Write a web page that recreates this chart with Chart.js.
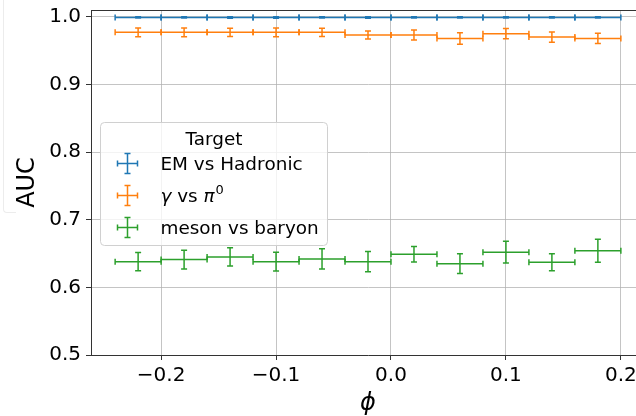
<!DOCTYPE html>
<html>
<head>
<meta charset="utf-8">
<title>AUC vs phi</title>
<script src="https://cdn.jsdelivr.net/npm/chart.js@4/dist/chart.umd.min.js"></script>
<style>
  html, body { margin: 0; padding: 0; background: #fff; overflow: hidden; }
  #wrap { position: relative; width: 636px; height: 416px; overflow: hidden; }
  #edge {
    position: absolute; left: 3px; top: -4px; width: 12px; height: 216px;
    border-left: 1px solid #ececec; border-bottom: 1px solid #ececec;
    border-bottom-left-radius: 4px;
  }
  canvas { position: absolute; left: 0; top: 0; }
</style>
</head>
<body>
<div id="wrap">
  <div id="edge"></div>
  <canvas id="aucChart" width="660" height="416"></canvas>
</div>
<script>
// phi bins (centre and half width)
const phiBins = [-0.22, -0.18, -0.14, -0.10, -0.06, -0.02, 0.02, 0.06, 0.10, 0.14, 0.18];
const phiHalfWidth = [0.02, 0.02, 0.02, 0.02, 0.02, 0.02, 0.02, 0.02, 0.02, 0.02, 0.02];

const seriesNames = ['EM vs Hadronic', 'γ vs π⁰', 'meson vs baryon'];
const seriesColors = ['#1f77b4', '#ff7f0e', '#2ca02c'];

const aucEm = [0.999, 0.999, 0.999, 0.999, 0.999, 0.999, 0.999, 0.999, 0.999, 0.999, 0.999];
const aucEmErr = [0.001, 0.001, 0.0012, 0.0012, 0.001, 0.0012, 0.001, 0.001, 0.001, 0.001, 0.001];

const aucGamma = [0.977, 0.977, 0.977, 0.977, 0.977, 0.973, 0.973, 0.968, 0.975, 0.970, 0.968];
const aucGammaErr = [0.0065, 0.0065, 0.006, 0.0065, 0.006, 0.006, 0.0075, 0.0085, 0.0075, 0.0075, 0.0075];

const aucMeson = [0.638, 0.641, 0.645, 0.638, 0.642, 0.638, 0.649, 0.635, 0.652, 0.637, 0.654];
const aucMesonErr = [0.0135, 0.014, 0.0135, 0.014, 0.015, 0.015, 0.0115, 0.0145, 0.016, 0.0125, 0.017];

const phiTicks = [-0.2, -0.1, 0.0, 0.1, 0.2];
const aucTicks = [0.5, 0.6, 0.7, 0.8, 0.9, 1.0];

const FONT = '"DejaVu Sans", sans-serif';
const CAP = 3;

function points(values, errors) {
    return phiBins.map((x, i) => ({ x: x, y: values[i], xErr: phiHalfWidth[i], yErr: errors[i] }));
}

function tickText(v) {
    if (Math.abs(v) < 1e-9) return '0.0';
    return v.toFixed(1).replace('-', '\u2212');
}

// errorbar: horizontal bin span + vertical uncertainty, both capped
const errorBars = {
    id: 'errorBars',
    afterDatasetsDraw(chart) {
        const { ctx, chartArea: ca, scales: { x, y } } = chart;
        ctx.save();
        ctx.beginPath();
        ctx.rect(ca.left, ca.top, ca.right - ca.left, ca.bottom - ca.top);
        ctx.clip();
        ctx.lineWidth = 1.5;
        chart.data.datasets.forEach(ds => {
            ctx.strokeStyle = ds.borderColor;
            ds.data.forEach(p => {
                const px = x.getPixelForValue(p.x);
                const py = y.getPixelForValue(p.y);
                const x0 = x.getPixelForValue(p.x - p.xErr);
                const x1 = x.getPixelForValue(p.x + p.xErr);
                const y0 = y.getPixelForValue(p.y - p.yErr);
                const y1 = y.getPixelForValue(p.y + p.yErr);
                ctx.beginPath();
                ctx.moveTo(x0, py); ctx.lineTo(x1, py);
                ctx.moveTo(x0, py - CAP); ctx.lineTo(x0, py + CAP);
                ctx.moveTo(x1, py - CAP); ctx.lineTo(x1, py + CAP);
                ctx.moveTo(px, y0); ctx.lineTo(px, y1);
                ctx.moveTo(px - CAP, y0); ctx.lineTo(px + CAP, y0);
                ctx.moveTo(px - CAP, y1); ctx.lineTo(px + CAP, y1);
                ctx.stroke();
            });
        });
        ctx.restore();

        // top spine
        ctx.save();
        ctx.strokeStyle = '#333';
        ctx.lineWidth = 1;
        ctx.beginPath();
        ctx.moveTo(ca.left, Math.round(ca.top) + 0.5);
        ctx.lineTo(ca.right, Math.round(ca.top) + 0.5);
        ctx.stroke();
        ctx.restore();
    }
};

// label text with italic greek letters and superscript digits
const SUP = { '⁰': '0', '¹': '1', '²': '2', '³': '3' };
function richText(ctx, text, x, base, size, draw) {
    let cx = x;
    for (const ch of text) {
        if (SUP[ch] !== undefined) {
            ctx.font = `${Math.round(size * 0.7)}px ${FONT}`;
            if (draw) ctx.fillText(SUP[ch], cx + 1, base - size * 0.42);
            cx += ctx.measureText(SUP[ch]).width + 1;
        } else {
            ctx.font = (/[\u03b1-\u03c9]/.test(ch) ? 'italic ' : '') + `${size}px ${FONT}`;
            if (draw) ctx.fillText(ch, cx, base);
            cx += ctx.measureText(ch).width;
        }
    }
    return cx - x;
}

const errorLegend = {
    id: 'errorLegend',
    afterDraw(chart) {
        const { ctx, chartArea: ca } = chart;
        const size = 18.4;
        const sets = chart.data.datasets;
        ctx.save();
        let maxW = 0;
        sets.forEach(ds => { maxW = Math.max(maxW, richText(ctx, ds.label, 0, 0, size, false)); });
        const w = Math.round(60 + maxW + 9);
        const h = 123;
        const left = Math.round(ca.left + 9) + 0.5;
        const top = Math.round((ca.top + ca.bottom) / 2 - h / 2 + 1) + 0.5;

        ctx.beginPath();
        ctx.roundRect(left, top, w, h, 4);
        ctx.fillStyle = 'rgba(255,255,255,0.8)';
        ctx.fill();
        ctx.strokeStyle = '#d0d0d0';
        ctx.lineWidth = 1;
        ctx.stroke();

        ctx.fillStyle = '#000';
        ctx.textBaseline = 'alphabetic';
        ctx.textAlign = 'center';
        ctx.font = `${size}px ${FONT}`;
        ctx.fillText('Target', left + w / 2, top + 16 + 6.5);
        ctx.textAlign = 'left';

        sets.forEach((ds, i) => {
            const cy = top + 41 + i * 32;
            const ix = left + 27;
            ctx.strokeStyle = ds.borderColor;
            ctx.lineWidth = 1.5;
            ctx.beginPath();
            ctx.moveTo(ix - 10, cy); ctx.lineTo(ix + 10, cy);
            ctx.moveTo(ix - 10, cy - CAP); ctx.lineTo(ix - 10, cy + CAP);
            ctx.moveTo(ix + 10, cy - CAP); ctx.lineTo(ix + 10, cy + CAP);
            ctx.moveTo(ix, cy - 10); ctx.lineTo(ix, cy + 10);
            ctx.moveTo(ix - CAP, cy - 10); ctx.lineTo(ix + CAP, cy - 10);
            ctx.moveTo(ix - CAP, cy + 10); ctx.lineTo(ix + CAP, cy + 10);
            ctx.stroke();
            ctx.fillStyle = '#000';
            richText(ctx, ds.label, left + 60, cy + 6.5, size, true);
        });
        ctx.restore();
    }
};

const gridStyle = {
    color: 'rgba(176,176,176,0.75)',
    lineWidth: 1,
    tickColor: '#333',
    tickLength: 5
};

new Chart(document.getElementById('aucChart'), {
    type: 'scatter',
    data: {
        datasets: [
            { label: seriesNames[0], data: points(aucEm, aucEmErr), borderColor: seriesColors[0], backgroundColor: seriesColors[0] },
            { label: seriesNames[1], data: points(aucGamma, aucGammaErr), borderColor: seriesColors[1], backgroundColor: seriesColors[1] },
            { label: seriesNames[2], data: points(aucMeson, aucMesonErr), borderColor: seriesColors[2], backgroundColor: seriesColors[2] }
        ]
    },
    options: {
        responsive: false,
        animation: false,
        layout: { padding: { top: 10, right: 15, bottom: 0, left: 0 }, autoPadding: false },
        elements: { point: { radius: 0, hoverRadius: 0 } },
        plugins: {
            legend: { display: false },
            tooltip: { enabled: false }
        },
        scales: {
            x: {
                type: 'linear',
                min: -0.261,
                max: 0.221,
                afterBuildTicks: s => { s.ticks = phiTicks.map(v => ({ value: v })); },
                afterFit: s => { s.height = 61; s.paddingLeft = 0; s.paddingRight = 0; },
                grid: gridStyle,
                border: { display: true, color: '#333', width: 1 },
                ticks: {
                    color: '#000',
                    font: { family: FONT, size: 20 },
                    padding: 4,
                    maxRotation: 0,
                    autoSkip: false,
                    callback: v => tickText(v)
                },
                title: {
                    display: true,
                    text: '\u03d5',
                    color: '#000',
                    font: { family: FONT, size: 24, style: 'italic', lineHeight: 1 },
                    padding: { top: 0, bottom: 0 }
                }
            },
            y: {
                type: 'linear',
                min: 0.5,
                max: 1.01,
                afterBuildTicks: s => { s.ticks = aucTicks.map(v => ({ value: v })); },
                afterFit: s => { s.width = 91; s.paddingTop = 0; s.paddingBottom = 0; },
                grid: gridStyle,
                border: { display: true, color: '#333', width: 1 },
                ticks: {
                    color: '#000',
                    font: { family: FONT, size: 20 },
                    padding: 5,
                    autoSkip: false,
                    callback: v => tickText(v)
                },
                title: {
                    display: true,
                    text: 'AUC',
                    color: '#000',
                    font: { family: FONT, size: 24, lineHeight: 1 },
                    padding: { top: 16, bottom: 0 }
                }
            }
        }
    },
    plugins: [errorBars, errorLegend]
});
</script>
</body>
</html>
